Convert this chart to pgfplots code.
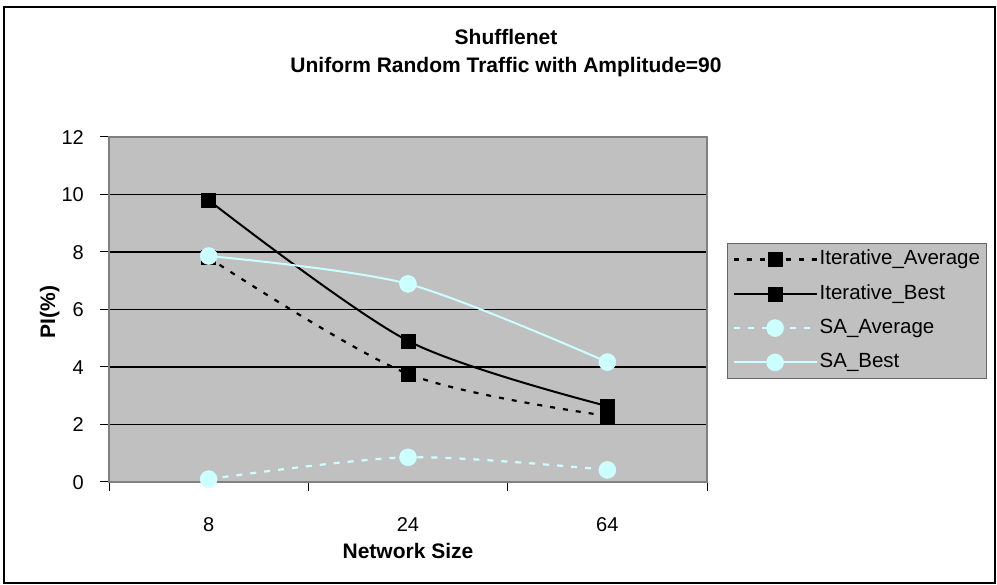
\documentclass[border=0pt]{standalone}
\usepackage{fontspec}
\setmainfont{Liberation Sans}
\usepackage{pgfplots}
\pgfplotsset{compat=1.18}
\definecolor{plotgray}{HTML}{C0C0C0}
\definecolor{sacyan}{HTML}{CCFFFF}
\definecolor{axgray}{HTML}{808080}
\begin{document}
\begin{tikzpicture}
\useasboundingbox (0,0) rectangle (997bp,585bp);
\fill[white] (0,0) rectangle (997bp,585bp);
\draw[black, line width=1.3bp] (4bp,2bp) rectangle (995bp,578bp);
\node[font=\fontsize{21bp}{25bp}\selectfont\bfseries, anchor=base, inner sep=0pt] at (506bp,540bp) {Shufflenet};
\node[font=\fontsize{21bp}{25bp}\selectfont\bfseries, anchor=base, inner sep=0pt] at (506bp,512bp) {Uniform Random Traffic with Amplitude=90};
\begin{axis}[
  at={(109bp,103bp)}, anchor=south west,
  width=598bp, height=345bp, scale only axis,
  xmin=-0.5, xmax=2.5, ymin=0, ymax=12,
  xtick={0,1,2}, xticklabels={8,24,64},
  minor xtick={-0.5,0.5,1.5,2.5},
  ytick={0,2,4,6,8,10,12},
  tick pos=left, tick align=outside,
  major tick length=9bp, minor tick length=9bp,
  major x tick style={draw=none},
  minor x tick style={black, line width=1bp},
  major y tick style={black, line width=1bp},
  ymajorgrids, grid style={black, line width=1.1bp},
  axis background/.style={fill=plotgray},
  axis line style={draw=axgray, line width=2.5bp},
  /pgf/number format/assume math mode=true,
  tick label style={font=\fontsize{20bp}{24bp}\selectfont},
  yticklabel style={anchor=east, inner sep=0pt, xshift=-16bp, text height=14.3bp, text depth=0pt},
  xticklabel style={anchor=base, inner sep=0pt, yshift=-40bp},
  xlabel={Network Size}, ylabel={PI(\%)},
  label style={font=\fontsize{21bp}{25bp}\selectfont\bfseries, inner sep=0pt},
  xlabel style={at={(axis description cs:0.5,-0.2203)}, anchor=base},
  ylabel style={at={(axis description cs:-0.0903,0.4928)}, anchor=base, rotate=0},
  clip=false,
  legend style={at={(1.0334,0.6928)}, anchor=north west,
    draw=black!60, fill=plotgray, line width=1bp,
    inner xsep=5bp, inner ysep=4.5bp, row sep=11.3bp,
    font=\fontsize{20.5bp}{24bp}\selectfont,
    nodes={inner sep=2bp, text height=15bp, text depth=4bp}},
  legend cell align=left,
  legend image code/.code={
    \draw[mark repeat=2, mark phase=2, #1] plot coordinates {(0bp,0bp) (41.5bp,0bp) (83bp,0bp)};
  },
]
\addplot[black, line width=2.2bp, dash pattern=on 5bp off 8bp, smooth, mark=square*, mark size=7bp, mark options={solid, fill=black, line width=0.5bp}]
  coordinates {(0,7.80) (1,3.76) (2,2.30)};
\addlegendentry{Iterative\_Average}
\addplot[black, line width=2bp, smooth, mark=square*, mark size=7bp, mark options={solid, fill=black, line width=0.5bp}]
  coordinates {(0,9.80) (1,4.91) (2,2.64)};
\addlegendentry{Iterative\_Best}
\addplot[sacyan, line width=2.2bp, dash pattern=on 6bp off 8bp, smooth, mark=*, mark size=8.5bp, mark options={solid, fill=sacyan, draw=sacyan, line width=0.5bp}]
  coordinates {(0,0.10) (1,0.86) (2,0.42)};
\addlegendentry{SA\_Average}
\addplot[sacyan, line width=2bp, smooth, mark=*, mark size=8.5bp, mark options={solid, fill=sacyan, draw=sacyan, line width=0.5bp}]
  coordinates {(0,7.86) (1,6.89) (2,4.17)};
\addlegendentry{SA\_Best}
\end{axis}
\end{tikzpicture}
\end{document}
